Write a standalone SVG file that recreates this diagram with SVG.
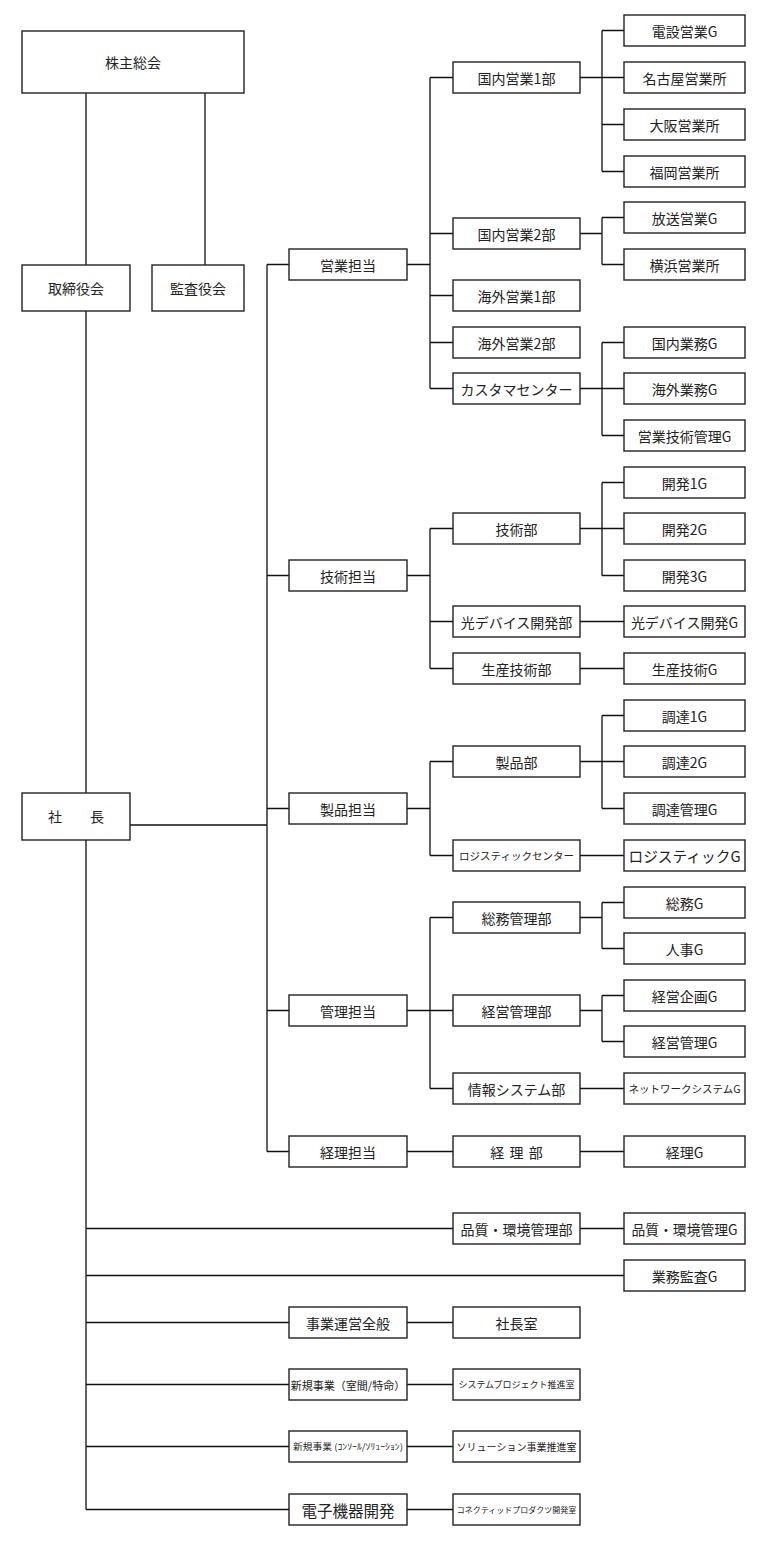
<svg xmlns="http://www.w3.org/2000/svg" width="767" height="1550" viewBox="0 0 767 1550">
<style>
.b{fill:#fff;stroke:#222;stroke-width:1.4}
.t{font-family:"Noto Sans CJK JP","Noto Sans CJK SC",sans-serif;font-size:14px;fill:#222;text-anchor:middle;dominant-baseline:central}
.s10{font-size:10.5px}
.s9{font-size:9px}
.s8{font-size:8px}
.c{stroke:#111;stroke-width:1.3;fill:none}
</style>
<rect width="767" height="1550" fill="#fff"/>
<g id="connectors" class="c">
<path d="M86 93V265M205 93V265M86 311V793M86 840V1509.5M130 825H267M267 264.5V1151.5M267 264.5H289M267 575.5H289M267 808.5H289M267 1010.5H289M267 1151.5H289"/>
<path d="M407 264.5H430M430 77.5V388.5M430 77.5H453M430 233.5H453M430 295.5H453M430 342.5H453M430 388.5H453M580 77.5H602M602 30.5V171.5M602 30.5H624M602 77.5H624M602 124.5H624M602 171.5H624M580 233.5H602M602 217.5V264.5M602 217.5H624M602 264.5H624M580 388.5H602M602 342.5V435.5M602 342.5H624M602 388.5H624M602 435.5H624"/>
<path d="M407 575.5H430M430 528.5V668.5M430 528.5H453M430 621.5H453M430 668.5H453M580 528.5H602M602 482.5V575.5M602 482.5H624M602 528.5H624M602 575.5H624M580 621.5H624M580 668.5H624"/>
<path d="M407 808.5H430M430 761.5V855.5M430 761.5H453M430 855.5H453M580 761.5H602M602 715.5V808.5M602 715.5H624M602 761.5H624M602 808.5H624M580 855.5H624"/>
<path d="M407 1010.5H430M430 917.5V1088.5M430 917.5H453M430 1010.5H453M430 1088.5H453M580 917.5H602M602 902.5V948.5M602 902.5H624M602 948.5H624M580 1010.5H602M602 995.5V1041.5M602 995.5H624M602 1041.5H624M580 1088.5H624"/>
<path d="M407 1151.5H453M580 1151.5H624M86 1228.5H453M580 1228.5H624M86 1275.5H624M86 1322.5H289M407 1322.5H453M86 1384.5H289M407 1384.5H453M86 1446.5H289M407 1446.5H453M86 1509.5H289M407 1509.5H453"/>
</g>
<g id="kabunushi"><rect class="b" x="22" y="31" width="222" height="62"/><text class="t" x="133" y="62">株主総会</text></g>
<g id="torishimari"><rect class="b" x="22" y="265" width="108" height="46"/><text class="t" x="76" y="288">取締役会</text></g>
<g id="kansa"><rect class="b" x="152" y="265" width="92" height="46"/><text class="t" x="198" y="288">監査役会</text></g>
<g id="shacho"><rect class="b" x="22" y="793" width="108" height="47"/><text class="t" x="76" y="816" xml:space="preserve">社　　長</text></g>

<g id="eigyo-tanto"><rect class="b" x="289" y="249" width="118" height="31"/><text class="t" x="348" y="264.5">営業担当</text></g>
<g id="gijutsu-tanto"><rect class="b" x="289" y="560" width="118" height="31"/><text class="t" x="348" y="575.5">技術担当</text></g>
<g id="seihin-tanto"><rect class="b" x="289" y="793" width="118" height="31"/><text class="t" x="348" y="808.5">製品担当</text></g>
<g id="kanri-tanto"><rect class="b" x="289" y="995" width="118" height="31"/><text class="t" x="348" y="1010.5">管理担当</text></g>
<g id="keiri-tanto"><rect class="b" x="289" y="1136" width="118" height="31"/><text class="t" x="348" y="1151.5">経理担当</text></g>
<g id="jigyo-unei"><rect class="b" x="289" y="1307" width="118" height="31"/><text class="t" x="348" y="1322.5">事業運営全般</text></g>
<g id="shinki1"><rect class="b" x="289" y="1369" width="118" height="31"/><text class="t" x="348" y="1384.5" style="font-size:11px">新規事業（室間/特命）</text></g>
<g id="shinki2"><rect class="b" x="289" y="1431" width="118" height="31"/><text class="t s9" x="348" y="1446.5" textLength="110" lengthAdjust="spacingAndGlyphs">新規事業 (ｺﾝｿｰﾙ/ｿﾘｭｰｼｮﾝ)</text></g>
<g id="denshi"><rect class="b" x="289" y="1494" width="118" height="31"/><text class="t" x="348" y="1509.5" style="font-size:15.5px">電子機器開発</text></g>

<g id="kokunai1"><rect class="b" x="453" y="62" width="127" height="31"/><text class="t" x="516.5" y="77.5">国内営業1部</text></g>
<g id="kokunai2"><rect class="b" x="453" y="218" width="127" height="31"/><text class="t" x="516.5" y="233.5">国内営業2部</text></g>
<g id="kaigai1"><rect class="b" x="453" y="280" width="127" height="31"/><text class="t" x="516.5" y="295.5">海外営業1部</text></g>
<g id="kaigai2"><rect class="b" x="453" y="327" width="127" height="31"/><text class="t" x="516.5" y="342.5">海外営業2部</text></g>
<g id="customer"><rect class="b" x="453" y="373" width="127" height="31"/><text class="t" x="516.5" y="388.5">カスタマセンター</text></g>
<g id="gijutsubu"><rect class="b" x="453" y="513" width="127" height="31"/><text class="t" x="516.5" y="528.5">技術部</text></g>
<g id="hikari-bu"><rect class="b" x="453" y="606" width="127" height="31"/><text class="t" x="516.5" y="621.5">光デバイス開発部</text></g>
<g id="seisan-bu"><rect class="b" x="453" y="653" width="127" height="31"/><text class="t" x="516.5" y="668.5">生産技術部</text></g>
<g id="seihinbu"><rect class="b" x="453" y="746" width="127" height="31"/><text class="t" x="516.5" y="761.5">製品部</text></g>
<g id="logi-center"><rect class="b" x="453" y="840" width="127" height="31"/><text class="t s10" x="516.5" y="855.5">ロジスティックセンター</text></g>
<g id="somu-bu"><rect class="b" x="453" y="902" width="127" height="31"/><text class="t" x="516.5" y="917.5">総務管理部</text></g>
<g id="keiei-bu"><rect class="b" x="453" y="995" width="127" height="31"/><text class="t" x="516.5" y="1010.5">経営管理部</text></g>
<g id="joho-bu"><rect class="b" x="453" y="1073" width="127" height="31"/><text class="t" x="516.5" y="1088.5">情報システム部</text></g>
<g id="keiri-bu"><rect class="b" x="453" y="1136" width="127" height="31"/><text class="t" x="516.5" y="1151.5" xml:space="preserve" style="word-spacing:2px">経 理 部</text></g>
<g id="hinshitsu-bu"><rect class="b" x="453" y="1213" width="127" height="31"/><text class="t" x="516.5" y="1228.5" textLength="112" lengthAdjust="spacingAndGlyphs">品質・環境管理部</text></g>
<g id="shachoshitsu"><rect class="b" x="453" y="1307" width="127" height="31"/><text class="t" x="516.5" y="1322.5">社長室</text></g>
<g id="system-pj"><rect class="b" x="453" y="1369" width="127" height="31"/><text class="t s9" x="516.5" y="1384.5">システムプロジェクト推進室</text></g>
<g id="solution"><rect class="b" x="453" y="1431" width="127" height="31"/><text class="t" x="516.5" y="1446.5" style="font-size:10px">ソリューション事業推進室</text></g>
<g id="connected"><rect class="b" x="453" y="1494" width="127" height="31"/><text class="t s8" x="516.5" y="1509.5">コネクティッドプロダクツ開発室</text></g>

<g id="densetsu"><rect class="b" x="624" y="15" width="121" height="31"/><text class="t" x="684.5" y="30.5">電設営業G</text></g>
<g id="nagoya"><rect class="b" x="624" y="62" width="121" height="31"/><text class="t" x="684.5" y="77.5">名古屋営業所</text></g>
<g id="osaka"><rect class="b" x="624" y="109" width="121" height="31"/><text class="t" x="684.5" y="124.5">大阪営業所</text></g>
<g id="fukuoka"><rect class="b" x="624" y="156" width="121" height="31"/><text class="t" x="684.5" y="171.5">福岡営業所</text></g>
<g id="hoso"><rect class="b" x="624" y="202" width="121" height="31"/><text class="t" x="684.5" y="217.5">放送営業G</text></g>
<g id="yokohama"><rect class="b" x="624" y="249" width="121" height="31"/><text class="t" x="684.5" y="264.5">横浜営業所</text></g>
<g id="kokunai-gyomu"><rect class="b" x="624" y="327" width="121" height="31"/><text class="t" x="684.5" y="342.5">国内業務G</text></g>
<g id="kaigai-gyomu"><rect class="b" x="624" y="373" width="121" height="31"/><text class="t" x="684.5" y="388.5">海外業務G</text></g>
<g id="eigyo-gijutsu"><rect class="b" x="624" y="420" width="121" height="31"/><text class="t" x="684.5" y="435.5">営業技術管理G</text></g>
<g id="kaihatsu1"><rect class="b" x="624" y="467" width="121" height="31"/><text class="t" x="684.5" y="482.5">開発1G</text></g>
<g id="kaihatsu2"><rect class="b" x="624" y="513" width="121" height="31"/><text class="t" x="684.5" y="528.5">開発2G</text></g>
<g id="kaihatsu3"><rect class="b" x="624" y="560" width="121" height="31"/><text class="t" x="684.5" y="575.5">開発3G</text></g>
<g id="hikari-g"><rect class="b" x="624" y="606" width="121" height="31"/><text class="t" x="684.5" y="621.5">光デバイス開発G</text></g>
<g id="seisan-g"><rect class="b" x="624" y="653" width="121" height="31"/><text class="t" x="684.5" y="668.5">生産技術G</text></g>
<g id="chotatsu1"><rect class="b" x="624" y="700" width="121" height="31"/><text class="t" x="684.5" y="715.5">調達1G</text></g>
<g id="chotatsu2"><rect class="b" x="624" y="746" width="121" height="31"/><text class="t" x="684.5" y="761.5">調達2G</text></g>
<g id="chotatsu-kanri"><rect class="b" x="624" y="793" width="121" height="31"/><text class="t" x="684.5" y="808.5">調達管理G</text></g>
<g id="logi-g"><rect class="b" x="624" y="840" width="121" height="31"/><text class="t" x="684.5" y="855.5" style="font-size:15px" textLength="112" lengthAdjust="spacingAndGlyphs">ロジスティックG</text></g>
<g id="somu-g"><rect class="b" x="624" y="887" width="121" height="31"/><text class="t" x="684.5" y="902.5">総務G</text></g>
<g id="jinji-g"><rect class="b" x="624" y="933" width="121" height="31"/><text class="t" x="684.5" y="948.5">人事G</text></g>
<g id="keiei-kikaku"><rect class="b" x="624" y="980" width="121" height="31"/><text class="t" x="684.5" y="995.5">経営企画G</text></g>
<g id="keiei-kanri-g"><rect class="b" x="624" y="1026" width="121" height="31"/><text class="t" x="684.5" y="1041.5">経営管理G</text></g>
<g id="network-g"><rect class="b" x="624" y="1073" width="121" height="31"/><text class="t s10" x="684.5" y="1088.5">ネットワークシステムG</text></g>
<g id="keiri-g"><rect class="b" x="624" y="1136" width="121" height="31"/><text class="t" x="684.5" y="1151.5">経理G</text></g>
<g id="hinshitsu-g"><rect class="b" x="624" y="1213" width="121" height="31"/><text class="t" x="684.5" y="1228.5" textLength="106" lengthAdjust="spacingAndGlyphs">品質・環境管理G</text></g>
<g id="gyomu-kansa"><rect class="b" x="624" y="1260" width="121" height="31"/><text class="t" x="684.5" y="1275.5">業務監査G</text></g>
</svg>
